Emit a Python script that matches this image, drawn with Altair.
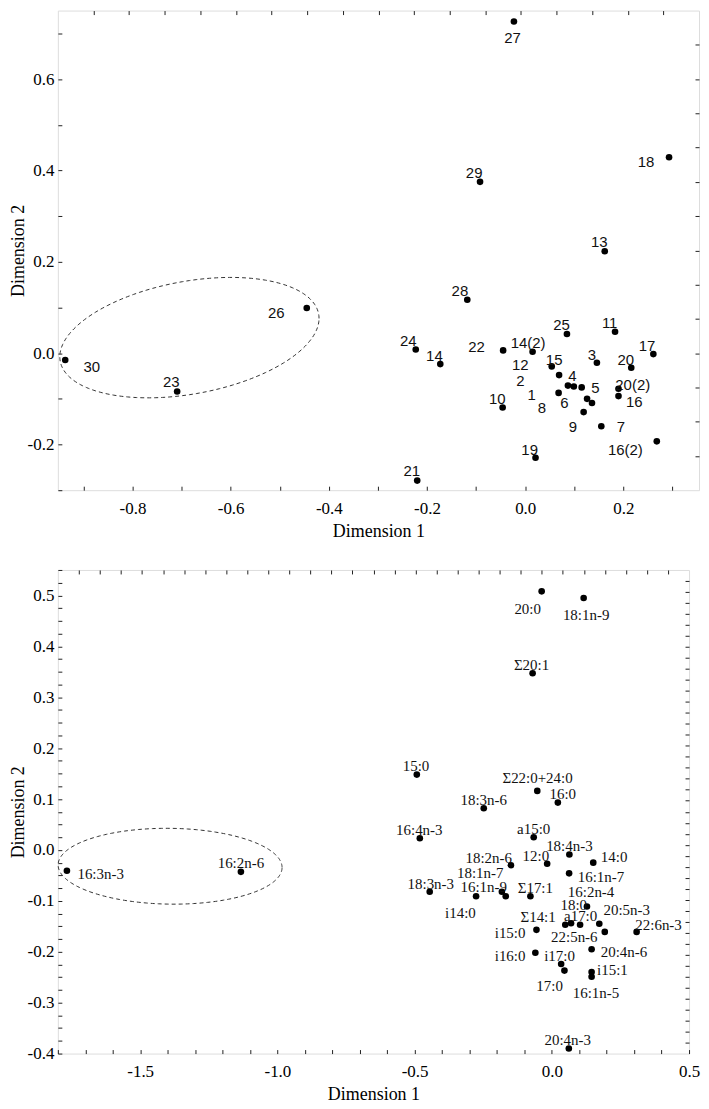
import numpy as np
import pandas as pd
import altair as alt

SERIF = "Liberation Serif"
SANS = "Liberation Sans"

# ---------------- top panel (objects) ----------------
top_label = ["27", "18", "29", "13", "30", "23", "26", "28", "25", "11", "24", "14",
             "22", "14(2)", "17", "3", "20", "15", "12", "4", "2", "1", "6", "5",
             "8", "9", "7", "20(2)", "16", "16(2)", "10", "19", "21"]
top_x = [-0.023, 0.293, -0.092, 0.162, -0.937, -0.709, -0.445, -0.118, 0.085, 0.183, -0.223, -0.173,
         -0.045, 0.015, 0.261, 0.146, 0.216, 0.054, 0.069, 0.099, 0.087, 0.068, 0.126, 0.115,
         0.136, 0.119, 0.155, 0.190, 0.190, 0.268, -0.046, 0.021, -0.220]
top_y = [0.726, 0.429, 0.375, 0.223, -0.015, -0.084, 0.099, 0.117, 0.042, 0.047, 0.008, -0.024,
         0.006, 0.003, -0.002, -0.021, -0.032, -0.029, -0.048, -0.073, -0.071, -0.087, -0.100, -0.075,
         -0.109, -0.129, -0.160, -0.078, -0.094, -0.193, -0.119, -0.229, -0.279]
# label anchor positions (data units)
top_lx = [-0.026, 0.246, -0.104, 0.151, -0.883, -0.721, -0.507, -0.133, 0.074, 0.172, -0.238, -0.185,
          -0.099, 0.006, 0.248, 0.136, 0.205, 0.059, -0.010, 0.096, -0.010, 0.013, 0.080, 0.143,
          0.034, 0.097, 0.195, 0.219, 0.222, 0.204, -0.057, 0.009, -0.231]
top_ly = [0.691, 0.418, 0.395, 0.243, -0.030, -0.064, 0.087, 0.136, 0.062, 0.065, 0.026, -0.006,
          0.013, 0.022, 0.016, -0.003, -0.014, -0.015, -0.027, -0.050, -0.061, -0.091, -0.109, -0.077,
          -0.121, -0.162, -0.162, -0.070, -0.107, -0.211, -0.100, -0.211, -0.259]

# ---------------- bottom panel (fatty acids) ----------------
bot_label = ["20:0", "18:1n-9", "Σ20:1", "15:0", "Σ22:0+24:0", "16:0", "18:3n-6", "16:4n-3",
             "a15:0", "18:4n-3", "14:0", "12:0", "18:2n-6", "16:1n-7", "18:1n-7", "18:3n-3",
             "16:1n-9", "i14:0", "Σ17:1", "16:2n-4", "18:0", "20:5n-3", "22:6n-3", "Σ14:1",
             "a17:0", "i15:0", "22:5n-6", "20:4n-6", "i16:0", "i17:0", "17:0", "i15:1",
             "16:1n-5", "20:4n-3", "16:3n-3", "16:2n-6"]
bot_x = [-0.037, 0.116, -0.070, -0.492, -0.053, 0.022, -0.248, -0.481,
         -0.066, 0.064, 0.151, -0.017, -0.149, 0.063, -0.182, -0.445,
         -0.168, -0.276, -0.078, 0.193, 0.128, 0.173, 0.309, 0.049,
         0.070, -0.056, 0.103, 0.145, -0.060, 0.034, 0.046, 0.145,
         0.145, 0.062, -1.767, -1.133]
bot_y = [0.508, 0.495, 0.347, 0.148, 0.116, 0.093, 0.082, 0.023,
         0.025, -0.009, -0.025, -0.027, -0.030, -0.046, -0.082, -0.082,
         -0.091, -0.091, -0.091, -0.161, -0.111, -0.145, -0.161, -0.147,
         -0.144, -0.157, -0.147, -0.195, -0.202, -0.224, -0.237, -0.240,
         -0.249, -0.390, -0.041, -0.043]
bot_lx = [-0.088, 0.125, -0.074, -0.495, -0.052, 0.040, -0.248, -0.483,
          -0.066, 0.064, 0.227, -0.058, -0.230, 0.179, -0.261, -0.441,
          -0.248, -0.333, -0.060, 0.143, 0.080, 0.273, 0.389, -0.050,
          0.105, -0.152, 0.082, 0.263, -0.152, 0.028, -0.008, 0.221,
          0.161, 0.058, -1.644, -1.133]
bot_ly = [0.473, 0.461, 0.363, 0.164, 0.142, 0.110, 0.098, 0.040,
          0.041, 0.007, -0.014, -0.011, -0.016, -0.053, -0.046, -0.067,
          -0.073, -0.124, -0.074, -0.082, -0.108, -0.118, -0.147, -0.132,
          -0.130, -0.163, -0.172, -0.200, -0.208, -0.208, -0.268, -0.236,
          -0.281, -0.374, -0.048, -0.025]

# dashed ellipses: centre x, centre y, x half-extent, y half-extent, tilt
top_ell = (-0.684, 0.034, 0.264, 0.1318, 0.042)
bot_ell = (-1.391, -0.032, 0.408, 0.0745, -0.0025)

TOP_XDOM = [-0.952, 0.354]
TOP_YDOM = [-0.30, 0.75]
BOT_XDOM = [-1.8, 0.5]
BOT_YDOM = [-0.40, 0.55]


def ellipse_df(p):
    cx, cy, hx, hy, k = p
    t = np.linspace(0, 2 * np.pi, 241)
    return pd.DataFrame({
        "t": np.arange(len(t)),
        "ex": cx + hx * np.cos(t),
        "ey": cy + k * np.cos(t) + np.sqrt(hy ** 2 - k ** 2) * np.sin(t),
    })


def fmt_expr(cond):
    return f"({cond}) ? replace(format(datum.value, '.1f'), '\u2212', '-') : ''"


def panel(df, edf, xdom, ydom, xvals, yvals, xcond, ycond, top_n, right_n,
          w, h, lab_font, lab_size):
    xs = alt.Scale(domain=xdom, nice=False, zero=False)
    ys = alt.Scale(domain=ydom, nice=False, zero=False)
    common = dict(tickSize=4, offset=-4, domain=False, grid=False,
                  tickColor="#222", tickWidth=1)
    ax_x = alt.Axis(values=xvals, labelExpr=fmt_expr(xcond), title="Dimension 1",
                    labelFont=SERIF, labelFontSize=17, labelColor="black",
                    titleFont=SERIF, titleFontSize=18, titleFontWeight="normal",
                    titleColor="black", labelPadding=10, titlePadding=6,
                    labelOverlap=False, labelFlush=False, **common)
    ax_y = alt.Axis(values=yvals, labelExpr=fmt_expr(ycond), title="Dimension 2",
                    labelFont=SERIF, labelFontSize=17, labelColor="black",
                    titleFont=SERIF, titleFontSize=18, titleFontWeight="normal",
                    titleColor="black", labelPadding=4, titlePadding=0,
                    labelOverlap=False, labelFlush=False, **common)
    tvals = list(np.linspace(xdom[0], xdom[1], top_n + 1)[1:-1])
    rvals = list(np.linspace(ydom[0], ydom[1], right_n + 1)[1:-1])
    ax_t = alt.Axis(orient="top", values=tvals, labels=False, title=None,
                    minExtent=0, maxExtent=0, **common)
    ax_r = alt.Axis(orient="right", values=rvals, labels=False, title=None,
                    minExtent=0, maxExtent=0, **common)

    ell = alt.Chart(edf).mark_line(color="#333", strokeWidth=1, strokeDash=[4, 3]).encode(
        x=alt.X("ex:Q", scale=xs, axis=None),
        y=alt.Y("ey:Q", scale=ys, axis=None),
        order="t:Q",
    )
    pts = alt.Chart(df).mark_circle(size=44, color="black", opacity=1).encode(
        x=alt.X("x:Q", scale=xs, axis=ax_x),
        y=alt.Y("y:Q", scale=ys, axis=ax_y),
    )
    txt = alt.Chart(df).mark_text(font=lab_font, fontSize=lab_size, color="#111",
                                  align="center", baseline="middle").encode(
        x=alt.X("lx:Q", scale=xs, axis=ax_t),
        y=alt.Y("ly:Q", scale=ys, axis=ax_r),
        text="label:N",
    )
    return alt.layer(ell, pts, txt).resolve_axis(x="independent", y="independent").properties(
        width=w, height=h)


top_df = pd.DataFrame({"label": top_label, "x": top_x, "y": top_y, "lx": top_lx, "ly": top_ly})
bot_df = pd.DataFrame({"label": bot_label, "x": bot_x, "y": bot_y, "lx": bot_lx, "ly": bot_ly})

top_xvals = [round(v, 1) for v in np.arange(-0.9, 0.31, 0.1)]
top_yvals = [round(v, 1) for v in np.arange(-0.3, 0.71, 0.1)]
bot_xvals = [round(v, 1) for v in np.arange(-1.8, 0.51, 0.1)]
bot_yvals = [round(v, 3) for v in np.arange(-0.4, 0.551, 0.025)]

top = panel(top_df, ellipse_df(top_ell), TOP_XDOM, TOP_YDOM, top_xvals, top_yvals,
            "abs(round(datum.value*10)) % 2 == 0", "abs(round(datum.value*10)) % 2 == 0",
            18, 14, 643, 481, SANS, 15)
bot = panel(bot_df, ellipse_df(bot_ell), BOT_XDOM, BOT_YDOM, bot_xvals, bot_yvals,
            "abs(round(datum.value*10)) % 5 == 0", "abs(round(datum.value*1000)) % 100 == 0",
            30, 44, 633, 485, SERIF, 15)

chart = alt.vconcat(top, bot, spacing=19).properties(
    padding={"left": 0, "top": 0, "right": 0, "bottom": 0}
).configure_view(stroke="#222", strokeWidth=1.2).configure(
    background="white", font=SERIF
).configure_axis(labelFont=SERIF, titleFont=SERIF, labelColor="black", titleColor="black")

chart.save("out.html", embed_options={"renderer": "svg", "actions": False})
